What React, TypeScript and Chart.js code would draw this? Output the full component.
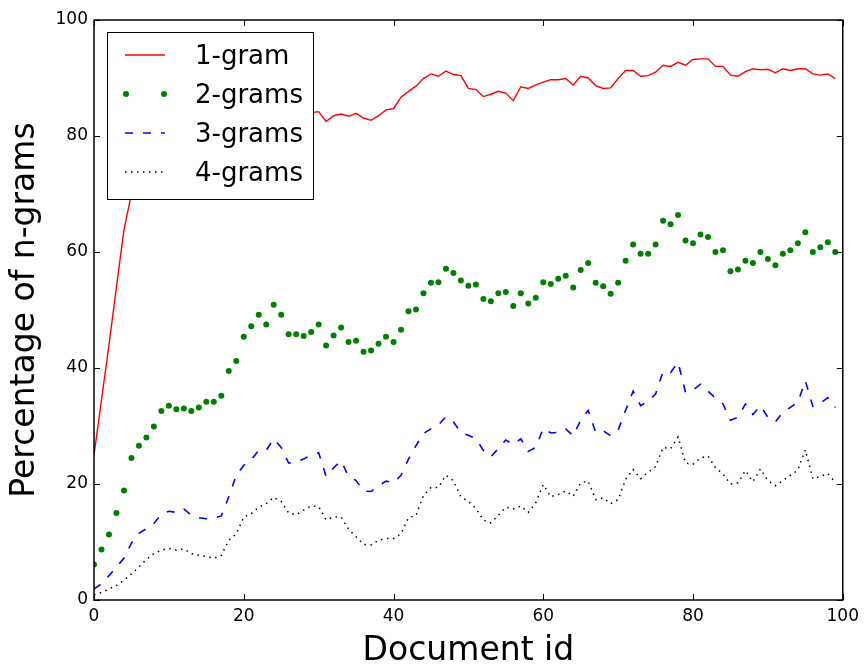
import React, { useEffect, useRef } from "react";
import { Chart, registerables } from "chart.js";

Chart.register(...registerables);

const docIds: number[] = Array.from({ length: 100 }, (_, i) => i);

const seriesNames = ["1-gram", "2-grams", "3-grams", "4-grams"];

const oneGram: number[] = [
  25, 34.5, 44, 54, 63.8, 70, 73, 75.5, 77, 78,
  78.5, 79, 79.5, 80, 80, 80.5, 81, 81, 81.5, 82,
  82, 82.5, 83, 83, 83.5, 83.5, 83.5, 83.8, 84, 84,
  84.2, 82.5, 83.5, 83.8, 83.4, 83.9, 83.1, 82.7, 83.5, 84.5,
  84.7, 86.7, 87.7, 88.6, 89.9, 90.7, 90.3, 91.2, 90.6, 90.4,
  88.2, 88.0, 86.8, 87.2, 87.7, 87.4, 86.1, 88.5, 88.2, 88.8,
  89.3, 89.7, 89.7, 89.9, 88.8, 90.3, 90.0, 88.7, 88.2, 88.3,
  89.9, 91.3, 91.3, 90.3, 90.4, 91.0, 92.2, 92.0, 92.7, 92.2,
  93.2, 93.3, 93.3, 92.0, 92.0, 90.5, 90.3, 91.1, 91.6, 91.4,
  91.5, 90.9, 91.6, 91.3, 91.6, 91.6, 90.7, 90.5, 90.7, 89.9,
];

const twoGrams: number[] = [
  6.1, 8.7, 11.3, 15.0, 18.9, 24.5, 26.6, 28.0, 29.9, 32.6,
  33.5, 32.9, 33.0, 32.6, 33.2, 34.2, 34.2, 35.2, 39.5, 41.2,
  45.4, 47.2, 49.2, 47.5, 50.9, 49.2, 45.8, 45.8, 45.5, 46.2,
  47.5, 43.9, 45.6, 47.0, 44.5, 44.7, 42.8, 43.0, 44.2, 45.4,
  44.5, 46.6, 49.8, 50.1, 52.9, 54.7, 54.8, 57.1, 56.4, 55.1,
  54.2, 54.4, 51.9, 51.5, 52.9, 53.1, 50.7, 52.9, 51.1, 52.1,
  54.8, 54.5, 55.4, 55.9, 53.9, 56.9, 58.1, 54.7, 54.1, 52.8,
  54.7, 58.5, 61.3, 59.7, 59.7, 61.3, 65.4, 64.8, 66.4, 62.0,
  61.5, 63.0, 62.6, 60.0, 60.3, 56.7, 57.0, 58.5, 58.1, 60.0,
  58.8, 57.7, 59.7, 60.3, 61.5, 63.4, 60.0, 60.8, 61.7, 60.0,
];

const threeGrams: number[] = [
  1.9, 2.8, 4.2, 5.7, 7.2, 9.8, 11.5, 12.3, 13.2, 14.8,
  15.3, 15.1, 15.7, 14.6, 14.2, 14.0, 14.1, 14.5, 17.8, 21.5,
  23.2, 24.2, 25.8, 25.8, 27.8, 26.3, 23.6, 23.8, 24.3, 25.0,
  25.4, 21.3, 22.8, 24.0, 21.3, 20.6, 18.8, 18.7, 19.7, 20.5,
  20.2, 21.5, 24.3, 26.6, 28.7, 29.5, 30.2, 31.6, 30.7, 28.9,
  28.4, 27.8, 25.8, 24.7, 26.1, 27.6, 26.8, 27.8, 25.6, 26.3,
  29.6, 28.8, 28.9, 29.5, 28.3, 31.0, 32.7, 28.9, 29.2, 28.3,
  29.3, 32.7, 36.0, 33.5, 34.3, 35.5, 39.4, 39.2, 41.0, 35.8,
  36.2, 37.2, 36.0, 34.8, 33.8, 31.0, 31.5, 33.8, 32.0, 33.5,
  31.5, 30.7, 32.4, 33.2, 34.1, 37.8, 33.4, 33.9, 34.9, 33.2,
];

const fourGrams: number[] = [
  0.9, 1.3, 1.9, 2.5, 3.4, 4.5, 5.7, 7.0, 8.0, 8.6,
  8.9, 8.6, 8.8, 8.0, 7.7, 7.5, 7.2, 7.7, 10.3, 11.4,
  14.3, 14.9, 16.0, 16.6, 17.7, 17.0, 15.0, 14.7, 15.5, 16.2,
  16.1, 13.8, 14.3, 14.3, 12.2, 10.9, 9.6, 9.5, 10.3, 10.6,
  10.6, 11.4, 14.2, 14.6, 18.0, 19.4, 19.4, 21.5, 20.6, 17.8,
  17.0, 15.8, 13.8, 13.3, 14.6, 16.0, 15.7, 16.2, 15.1, 16.8,
  19.9, 17.8, 18.2, 18.8, 17.9, 20.2, 20.5, 17.3, 17.6, 16.6,
  17.3, 20.8, 22.5, 20.9, 22.0, 23.0, 26.3, 26.1, 28.1, 23.6,
  23.4, 24.5, 24.8, 22.8, 21.7, 20.0, 20.2, 22.3, 20.4, 22.6,
  20.6, 19.7, 20.6, 21.5, 22.4, 25.9, 20.9, 21.3, 21.8, 20.3,
];

const axisMin = 0;
const axisMax = 100;
const tickStep = 20;
const xTitle = "Document id";
const yTitle = "Percentage of n-grams";

const FONT = "DejaVu Sans";

const toPoints = (vals: number[]) => vals.map((v, i) => ({ x: docIds[i], y: v }));

const legendPlugin = {
  id: "boxLegend",
  afterDatasetsDraw(chart: any) {
    const { ctx, chartArea } = chart;
    const bx = chartArea.left + 13;
    const by = chartArea.top + 12;
    const bw = 206;
    const bh = 167;
    ctx.save();
    ctx.fillStyle = "#fff";
    ctx.fillRect(bx, by, bw, bh);
    ctx.strokeStyle = "#000";
    ctx.lineWidth = 1;
    ctx.strokeRect(bx + 0.5, by + 0.5, bw, bh);
    chart.data.datasets.forEach((ds: any, i: number) => {
      const ry = by + 23 + i * 39;
      const x0 = bx + 18;
      const x1 = bx + 58;
      if (ds.showLine === false) {
        ctx.fillStyle = ds.pointBackgroundColor;
        [x0 + 1, x1 - 1].forEach((px) => {
          ctx.beginPath();
          ctx.arc(px, ry, ds.pointRadius, 0, Math.PI * 2);
          ctx.fill();
        });
      } else {
        ctx.strokeStyle = ds.borderColor;
        ctx.lineWidth = ds.borderWidth;
        ctx.setLineDash(ds.borderDash || []);
        ctx.beginPath();
        ctx.moveTo(x0, ry);
        ctx.lineTo(x1, ry);
        ctx.stroke();
        ctx.setLineDash([]);
      }
      ctx.fillStyle = "#000";
      ctx.font = `26px "${FONT}"`;
      ctx.textBaseline = "middle";
      ctx.textAlign = "left";
      ctx.fillText(ds.label, bx + 88, ry + 2);
    });
    ctx.restore();
  },
};

const framePlugin = {
  id: "frame",
  afterDraw(chart: any) {
    const { ctx, chartArea } = chart;
    const { left, right, top, bottom } = chartArea;
    const xs = chart.scales.x;
    const ys = chart.scales.y;
    const tl = 6;
    ctx.save();
    ctx.strokeStyle = "#000";
    ctx.lineWidth = 1;
    ctx.beginPath();
    xs.ticks.forEach((t: any) => {
      const px = Math.round(xs.getPixelForValue(t.value)) + 0.5;
      ctx.moveTo(px, bottom);
      ctx.lineTo(px, bottom - tl);
      ctx.moveTo(px, top);
      ctx.lineTo(px, top + tl);
    });
    ys.ticks.forEach((t: any) => {
      const py = Math.round(ys.getPixelForValue(t.value)) + 0.5;
      ctx.moveTo(left, py);
      ctx.lineTo(left + tl, py);
      ctx.moveTo(right, py);
      ctx.lineTo(right - tl, py);
    });
    ctx.stroke();
    ctx.lineWidth = 1.5;
    ctx.strokeRect(left, top, right - left, bottom - top);
    ctx.restore();
  },
};

export default function App() {
  const ref = useRef<HTMLCanvasElement | null>(null);

  useEffect(() => {
    if (!ref.current) return;
    const chart = new Chart(ref.current, {
      type: "line",
      data: {
        datasets: [
          {
            label: seriesNames[0],
            data: toPoints(oneGram),
            borderColor: "#ff0000",
            borderWidth: 1.4,
            pointRadius: 0,
            fill: false,
            tension: 0,
          },
          {
            label: seriesNames[1],
            data: toPoints(twoGrams),
            showLine: false,
            borderColor: "#008000",
            pointBackgroundColor: "#008000",
            pointBorderWidth: 0,
            pointRadius: 3,
          },
          {
            label: seriesNames[2],
            data: toPoints(threeGrams),
            borderColor: "#0000ff",
            borderWidth: 1.6,
            borderDash: [8, 10],
            pointRadius: 0,
            fill: false,
            tension: 0,
          },
          {
            label: seriesNames[3],
            data: toPoints(fourGrams),
            borderColor: "#000000",
            borderWidth: 1.5,
            borderDash: [1.5, 4.5],
            pointRadius: 0,
            fill: false,
            tension: 0,
          },
        ] as any,
      },
      options: {
        responsive: false,
        animation: false,
        devicePixelRatio: 1,
        layout: { padding: { left: 0, right: 21, top: 20, bottom: 0 } },
        plugins: {
          legend: { display: false },
          tooltip: { enabled: false },
        },
        scales: {
          x: {
            type: "linear",
            position: "bottom",
            min: axisMin,
            max: axisMax,
            grid: { display: false, drawTicks: false },
            border: { display: false },
            ticks: {
              stepSize: tickStep,
              color: "#000",
              font: { family: FONT, size: 17 },
              padding: 6,
              maxRotation: 0,
            },
            title: {
              display: true,
              text: xTitle,
              color: "#000",
              font: { family: FONT, size: 33, lineHeight: 0.76 },
              padding: { top: 0, bottom: 0 },
            },
            afterFit: (s: any) => {
              s.height = 64;
            },
          },
          y: {
            type: "linear",
            min: axisMin,
            max: axisMax,
            grid: { display: false, drawTicks: false },
            border: { display: false },
            ticks: {
              stepSize: tickStep,
              color: "#000",
              font: { family: FONT, size: 17 },
              padding: 6,
            },
            title: {
              display: true,
              text: yTitle,
              color: "#000",
              font: { family: FONT, size: 33, lineHeight: 1 },
              padding: { top: 9, bottom: 0 },
            },
            afterFit: (s: any) => {
              s.width = 94;
            },
          },
        },
      } as any,
      plugins: [legendPlugin, framePlugin],
    });
    return () => chart.destroy();
  }, []);

  return (
    <div style={{ position: "fixed", left: 0, top: 0, width: 865, height: 664, background: "#fff" }}>
      <canvas ref={ref} width={865} height={664} style={{ display: "block" }} />
    </div>
  );
}
